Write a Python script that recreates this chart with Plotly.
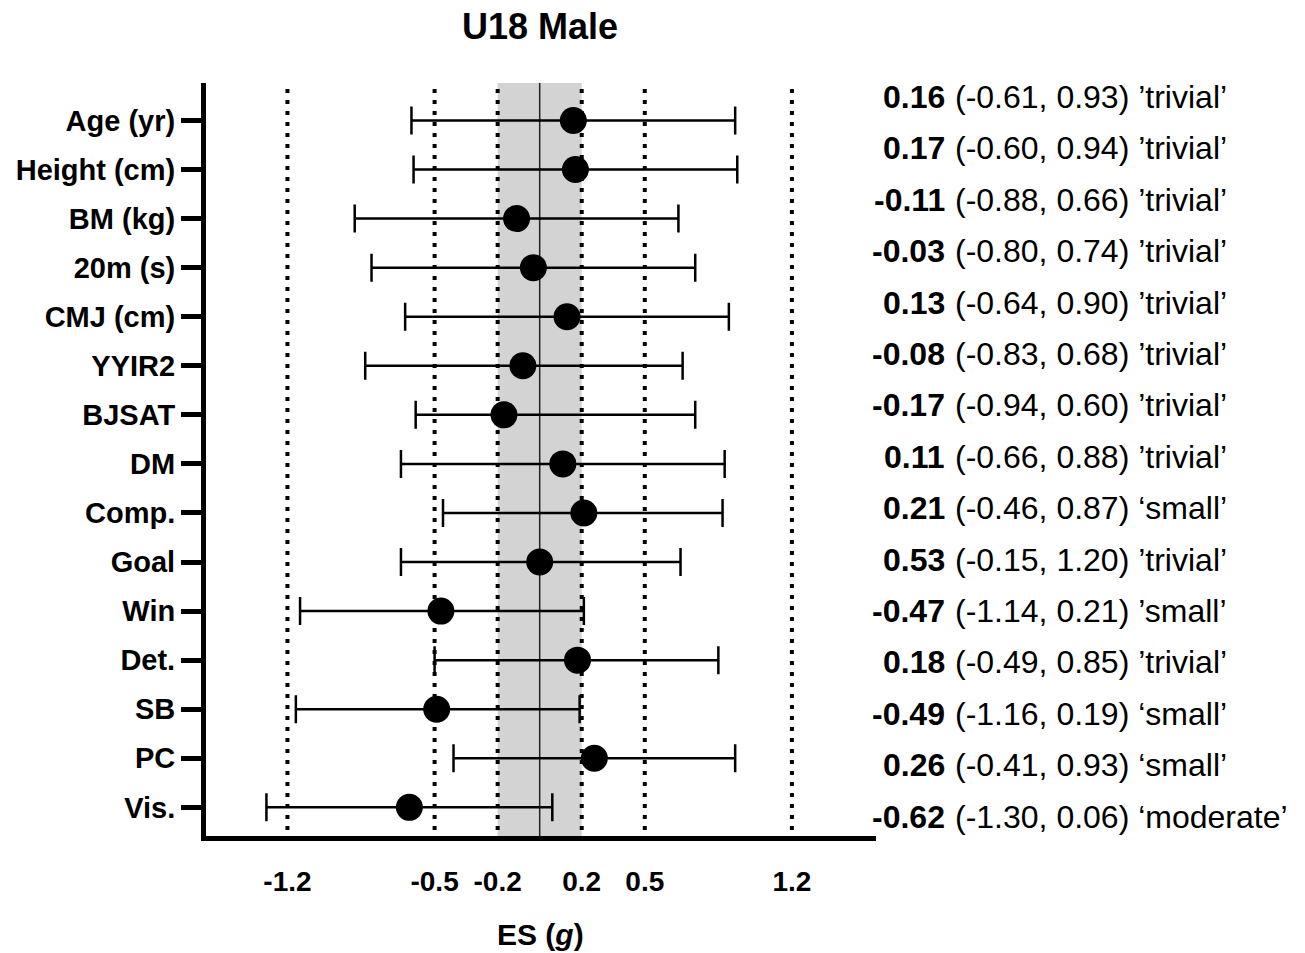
import plotly.graph_objects as go

# ---------------- data ----------------
categories = ["Age (yr)", "Height (cm)", "BM (kg)", "20m (s)", "CMJ (cm)", "YYIR2", "BJSAT",
              "DM", "Comp.", "Goal", "Win", "Det.", "SB", "PC", "Vis."]
# values as drawn in the plot
es_plot = [0.16, 0.17, -0.11, -0.03, 0.13, -0.08, -0.17, 0.11, 0.21, 0.00, -0.47, 0.18, -0.49, 0.26, -0.62]
ci_low_plot = [-0.61, -0.60, -0.88, -0.80, -0.64, -0.83, -0.59, -0.66, -0.46, -0.66, -1.14, -0.50, -1.16, -0.41, -1.30]
ci_high_plot = [0.93, 0.94, 0.66, 0.74, 0.90, 0.68, 0.74, 0.88, 0.87, 0.67, 0.21, 0.85, 0.19, 0.93, 0.06]
# printed labels on the right
es_text = ["0.16", "0.17", "-0.11", "-0.03", "0.13", "-0.08", "-0.17", "0.11", "0.21", "0.53",
           "-0.47", "0.18", "-0.49", "0.26", "-0.62"]
ci_text = ["(-0.61, 0.93)", "(-0.60, 0.94)", "(-0.88, 0.66)", "(-0.80, 0.74)", "(-0.64, 0.90)",
           "(-0.83, 0.68)", "(-0.94, 0.60)", "(-0.66, 0.88)", "(-0.46, 0.87)", "(-0.15, 1.20)",
           "(-1.14, 0.21)", "(-0.49, 0.85)", "(-1.16, 0.19)", "(-0.41, 0.93)", "(-1.30, 0.06)"]
magnitude = ["\u2019trivial\u2019", "\u2019trivial\u2019", "\u2019trivial\u2019", "\u2019trivial\u2019",
             "\u2019trivial\u2019", "\u2019trivial\u2019", "\u2019trivial\u2019", "\u2019trivial\u2019",
             "\u2018small\u2019", "\u2019trivial\u2019", "\u2019small\u2019", "\u2019trivial\u2019",
             "\u2018small\u2019", "\u2018small\u2019", "\u2018moderate\u2019"]
ref_lines = [-1.2, -0.5, -0.2, 0.2, 0.5, 1.2]
x_tick_vals = [-1.2, -0.5, -0.2, 0.2, 0.5, 1.2]
x_tick_text = ["-1.2", "-0.5", "-0.2", "0.2", "0.5", "1.2"]
trivial_band = (-0.2, 0.2)

# ---------------- layout constants ----------------
W, H = 1305, 953
ML, MR, MT, MB = 205.5, 429, 83, 117
PW, PH = W - ML - MR, H - MT - MB
FONT = "Liberation Sans, Arial, Helvetica, sans-serif"

ypos = list(range(len(categories)))

fig = go.Figure()
fig.add_trace(go.Scatter(
    x=es_plot, y=ypos, mode="markers",
    marker=dict(size=27, color="black"),
    error_x=dict(type="data", symmetric=False,
                 array=[h - e for h, e in zip(ci_high_plot, es_plot)],
                 arrayminus=[e - l for e, l in zip(es_plot, ci_low_plot)],
                 color="black", thickness=2.5, width=14),
    showlegend=False, hoverinfo="skip",
))

shapes = [
    dict(type="rect", xref="x", yref="paper", x0=trivial_band[0], x1=trivial_band[1], y0=0, y1=1,
         fillcolor="#d3d3d3", line=dict(width=0), layer="below"),
    dict(type="line", xref="x", yref="paper", x0=0, x1=0, y0=0, y1=1,
         line=dict(color="#222222", width=1.5), layer="below"),
]
for v in ref_lines:
    shapes.append(dict(type="line", xref="x", yref="paper", x0=v, x1=v, y0=0.008, y1=1,
                       line=dict(color="black", width=4, dash="4px,7px"), layer="below"))

annotations = []
row_top, row_step = 97, 51.4
num_right_px, txt_left_px = 947, 953
for i in range(len(categories)):
    py = row_top + row_step * i
    yp = 1 - (py - MT) / PH
    annotations.append(dict(xref="paper", yref="paper", x=(num_right_px - ML) / PW, y=yp,
                            xanchor="right", yanchor="middle", showarrow=False,
                            text=es_text[i], font=dict(family=FONT, size=32, color="black", weight="bold")))
    annotations.append(dict(xref="paper", yref="paper", x=(txt_left_px - ML) / PW, y=yp,
                            xanchor="left", yanchor="middle", showarrow=False,
                            text=ci_text[i] + " " + magnitude[i],
                            font=dict(family=FONT, size=32, color="black")))

annotations.append(dict(xref="paper", yref="paper", x=(540 - ML) / PW, y=-(935 - (H - MB)) / PH,
                        xanchor="center", yanchor="middle", showarrow=False,
                        text="ES (<i>g</i>)", font=dict(family=FONT, size=30, color="black", weight="bold")))

fig.update_layout(
    width=W, height=H,
    margin=dict(l=ML, r=MR, t=MT, b=MB),
    paper_bgcolor="white", plot_bgcolor="white",
    title=dict(text="U18 Male", x=540 / W, xanchor="center", y=1 - 26 / H, yanchor="middle",
               font=dict(family=FONT, size=36, color="black", weight="bold")),
    shapes=shapes, annotations=annotations,
    xaxis=dict(range=[-1.5875, 1.6], tickvals=x_tick_vals, ticktext=x_tick_text,
               showline=True, linecolor="black", linewidth=5, ticks="",
               showgrid=False, zeroline=False, ticklabelstandoff=16,
               tickfont=dict(family=FONT, size=28, color="black", weight="bold")),
    yaxis=dict(range=[14.584, -0.764], tickvals=ypos, ticktext=categories,
               showline=True, linecolor="black", linewidth=5, ticks="outside",
               ticklen=20, tickwidth=5, tickcolor="black",
               showgrid=False, zeroline=False,
               tickfont=dict(family=FONT, size=29, color="black", weight="bold")),
)

fig.write_html("out.html", config={"displayModeBar": False},
               post_script="document.body.style.margin='0';document.body.style.overflow='hidden';")
